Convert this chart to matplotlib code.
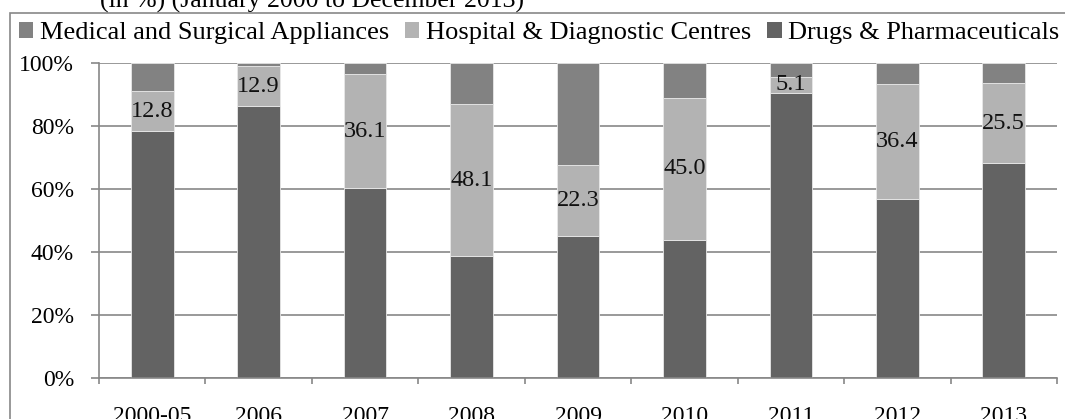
import matplotlib
matplotlib.use("Agg")
import matplotlib.pyplot as plt
from matplotlib.patches import Rectangle, Patch
import numpy as np

plt.rcParams['font.family'] = ['Liberation Serif', 'DejaVu Serif']

categories = ["2000-05", "2006", "2007", "2008", "2009", "2010", "2011", "2012", "2013"]
drugs = [78.3, 86.2, 60.3, 38.8, 45.2, 43.9, 90.5, 56.8, 68.2]
hospital = [12.8, 12.9, 36.1, 48.1, 22.3, 45.0, 5.1, 36.4, 25.5]
medical = [100 - d - h for d, h in zip(drugs, hospital)]
hospital_labels = ["12.8", "12.9", "36.1", "48.1", "22.3", "45.0", "5.1", "36.4", "25.5"]
title = "(in %) (January 2000 to December 2013)"

c_drugs = "#636363"
c_hosp = "#b3b3b3"
c_med = "#828282"
grid_c = "#878787"

W, H = 1065, 419
fig = plt.figure(figsize=(W / 100, H / 100), dpi=100)
ax = fig.add_axes([99 / W, 1 - 378 / H, (1057 - 99) / W, (378 - 63) / H])

x = np.arange(len(categories))
bw = 0.4
ax.bar(x, drugs, bw, color=c_drugs, edgecolor="#e8e8e8", linewidth=0.6, zorder=2)
ax.bar(x, hospital, bw, bottom=drugs, color=c_hosp, edgecolor="#e8e8e8", linewidth=0.6, zorder=2)
ax.bar(x, medical, bw, bottom=[d + h for d, h in zip(drugs, hospital)], color=c_med,
       edgecolor="#e8e8e8", linewidth=0.6, zorder=2)

for xi, d, h, lab in zip(x, drugs, hospital, hospital_labels):
    ax.text(xi, d + h / 2, lab, ha="center", va="center", fontsize=17.5, color="#111111", zorder=3)

ax.set_xlim(-0.5, len(categories) - 0.5)
ax.set_ylim(0, 100)
ax.set_yticks([0, 20, 40, 60, 80, 100])
ax.set_yticklabels(["0%", "20%", "40%", "60%", "80%", "100%"], fontsize=17)
ax.yaxis.grid(True, color=grid_c, linewidth=1.2, zorder=0)
ax.set_axisbelow(True)

ax.set_xticks(np.arange(-0.5, len(categories), 1.0))
ax.set_xticklabels([])
ax.set_xticks(x, minor=True)
ax.set_xticklabels(categories, minor=True, fontsize=17)
ax.tick_params(axis="x", which="major", direction="out", length=4, width=1.2, color=grid_c)
ax.tick_params(axis="x", which="minor", length=0, pad=20)
ax.tick_params(axis="y", direction="out", length=6, width=1.2, color=grid_c, pad=12)

for s in ["top", "right"]:
    ax.spines[s].set_visible(False)
for s in ["left", "bottom"]:
    ax.spines[s].set_color(grid_c)
    ax.spines[s].set_linewidth(1.2)

handles = [Patch(facecolor=c_med, label="Medical and Surgical Appliances"),
           Patch(facecolor=c_hosp, label="Hospital & Diagnostic Centres"),
           Patch(facecolor=c_drugs, label="Drugs & Pharmaceuticals")]
fig.legend(handles=handles, loc="center", bbox_to_anchor=(539 / W, 1 - 33 / H), ncol=3,
           frameon=False, fontsize=19, handlelength=0.55, handleheight=0.55,
           handletextpad=0.25, columnspacing=0.6, borderaxespad=0)

fig.text(100 / W, 1 - 8 / H, title, fontsize=18.5, ha="left", va="baseline")

rect = Rectangle((9.5 / W, -0.2), 1.2, 1 - 13 / H + 0.2, transform=fig.transFigure,
                 fill=False, edgecolor=grid_c, linewidth=1.2, clip_on=False)
fig.patches.append(rect)

fig.savefig("out.png", dpi=100)
